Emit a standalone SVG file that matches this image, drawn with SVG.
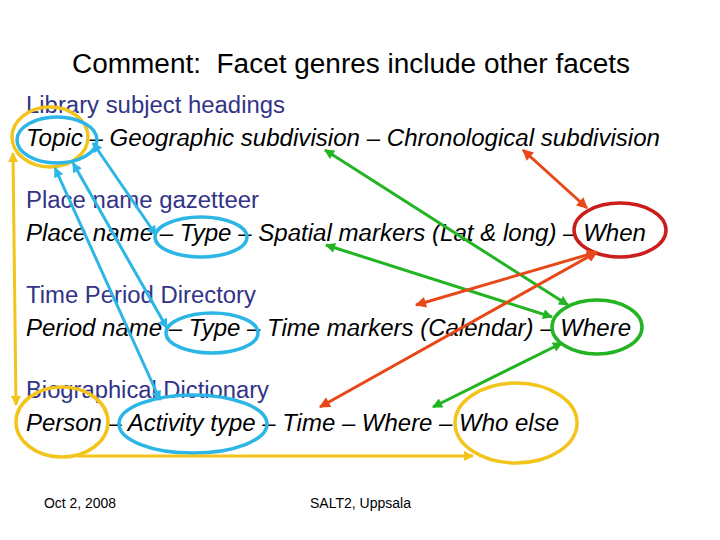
<svg xmlns="http://www.w3.org/2000/svg" width="720" height="540" viewBox="0 0 720 540">
<style>
text{white-space:pre}
.title{font-family:"Liberation Sans",Arial,sans-serif;font-size:27px;fill:#000}
.head{font-family:"Liberation Sans",Arial,sans-serif;font-size:23px;fill:#333388}
.row{font-family:"Liberation Sans",Arial,sans-serif;font-size:23px;font-style:italic;fill:#000}
.foot{font-family:"Liberation Sans",Arial,sans-serif;font-size:14px;fill:#000}
.ell{fill:none;stroke-width:3.5}
.c{stroke-width:3;fill:none}
.blue{stroke:#2cb6e6}
.yel{stroke:#f3c41c}
.grn{stroke:#22b422}
.red{stroke:#e84818}
</style>
<defs>
<marker id="mb" viewBox="0 0 10 10" refX="9" refY="5" markerWidth="12" markerHeight="10" markerUnits="userSpaceOnUse" orient="auto-start-reverse"><path d="M0,0 L10,5 L0,10 z" fill="#2cb6e6"/></marker>
<marker id="my" viewBox="0 0 10 10" refX="9" refY="5" markerWidth="12" markerHeight="10" markerUnits="userSpaceOnUse" orient="auto-start-reverse"><path d="M0,0 L10,5 L0,10 z" fill="#f3c41c"/></marker>
<marker id="mg" viewBox="0 0 10 10" refX="9" refY="5" markerWidth="12" markerHeight="10" markerUnits="userSpaceOnUse" orient="auto-start-reverse"><path d="M0,0 L10,5 L0,10 z" fill="#22b422"/></marker>
<marker id="mr" viewBox="0 0 10 10" refX="9" refY="5" markerWidth="13" markerHeight="11" markerUnits="userSpaceOnUse" orient="auto-start-reverse"><path d="M0,0 L10,5 L0,10 z" fill="#e84818"/></marker>
</defs>

<g id="title"><text class="title" x="72" y="73" textLength="558" lengthAdjust="spacingAndGlyphs">Comment:  Facet genres include other facets</text></g>

<g id="row-library">
<text class="head" x="26" y="113" textLength="259" lengthAdjust="spacingAndGlyphs">Library subject headings</text>
<text class="row" x="26" y="146" textLength="634" lengthAdjust="spacingAndGlyphs">Topic – Geographic subdivision – Chronological subdivision</text>
</g>
<g id="row-gazetteer">
<text class="head" x="26" y="208" textLength="233" lengthAdjust="spacingAndGlyphs">Place name gazetteer</text>
<text class="row" x="26" y="241" textLength="620" lengthAdjust="spacingAndGlyphs">Place name – Type – Spatial markers (Lat &amp; long) – When</text>
</g>
<g id="row-period">
<text class="head" x="26" y="303" textLength="230" lengthAdjust="spacingAndGlyphs">Time Period Directory</text>
<text class="row" x="26" y="336" textLength="605" lengthAdjust="spacingAndGlyphs">Period name – Type – Time markers (Calendar) – Where</text>
</g>
<g id="row-bio">
<text class="head" x="26" y="398" textLength="243" lengthAdjust="spacingAndGlyphs">Biographical Dictionary</text>
<text class="row" x="26" y="431" textLength="533" lengthAdjust="spacingAndGlyphs">Person – Activity type – Time – Where – Who else</text>
</g>

<g id="ellipses">
<ellipse id="topic-yellow" class="ell yel" cx="50" cy="137" rx="38" ry="30"/>
<ellipse id="topic-blue" class="ell blue" cx="57" cy="140" rx="40" ry="23"/>
<ellipse id="type-gaz" class="ell blue" cx="201" cy="237" rx="46" ry="20"/>
<ellipse id="type-period" class="ell blue" cx="212" cy="333" rx="46" ry="20"/>
<ellipse id="activity" class="ell blue" cx="193" cy="424" rx="74" ry="29"/>
<ellipse id="person" class="ell yel" cx="62" cy="422" rx="46" ry="35"/>
<ellipse id="whoelse" class="ell yel" cx="516" cy="423" rx="61" ry="40"/>
<ellipse id="where-period" class="ell grn" cx="597" cy="327" rx="45" ry="27"/>
<ellipse id="when-gaz" class="ell" stroke="#cc1c1c" cx="620" cy="230" rx="46" ry="27"/>
</g>

<g id="connectors">
<line class="c blue" x1="93" y1="143" x2="156" y2="235" marker-start="url(#mb)" marker-end="url(#mb)"/>
<line class="c blue" x1="73" y1="163" x2="167" y2="328" marker-start="url(#mb)" marker-end="url(#mb)"/>
<line class="c blue" x1="55" y1="168" x2="160" y2="400" marker-start="url(#mb)" marker-end="url(#mb)"/>
<line class="c yel" x1="13" y1="153" x2="16" y2="405" marker-start="url(#my)" marker-end="url(#my)"/>
<line class="c yel" x1="77" y1="456" x2="473" y2="456" marker-end="url(#my)"/>
<line class="c grn" x1="325" y1="150" x2="568" y2="305" marker-start="url(#mg)" marker-end="url(#mg)"/>
<line class="c grn" x1="326" y1="245" x2="552" y2="317" marker-start="url(#mg)" marker-end="url(#mg)"/>
<line class="c grn" x1="562" y1="343" x2="433" y2="407" marker-start="url(#mg)" marker-end="url(#mg)"/>
<line class="c red" x1="523" y1="150" x2="587" y2="208" marker-start="url(#mr)" marker-end="url(#mr)"/>
<line class="c red" x1="597" y1="252" x2="416" y2="305" marker-start="url(#mr)" marker-end="url(#mr)"/>
<line class="c red" x1="597" y1="252" x2="320" y2="407" marker-start="url(#mr)" marker-end="url(#mr)"/>
</g>

<g id="footer">
<text class="foot" x="44" y="508" textLength="72" lengthAdjust="spacingAndGlyphs">Oct 2, 2008</text>
<text class="foot" x="310" y="508" textLength="101" lengthAdjust="spacingAndGlyphs">SALT2, Uppsala</text>
</g>
</svg>
